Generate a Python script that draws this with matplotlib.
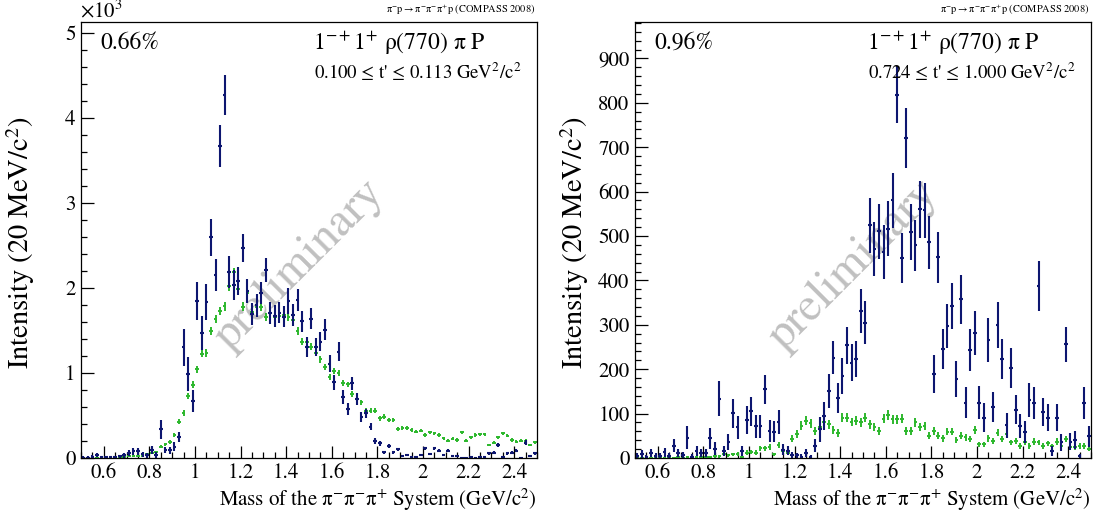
"""Recreate the COMPASS 2008 1-+1+ rho(770) pi P partial-wave intensity plots."""

from __future__ import annotations

import matplotlib

matplotlib.use("Agg")
import matplotlib.pyplot as plt
import numpy as np
from matplotlib.ticker import FixedLocator, MultipleLocator

plt.rcParams["font.family"] = ["STIXGeneral", "DejaVu Serif"]
plt.rcParams["mathtext.fontset"] = "stix"

# 100 bins of 20 MeV between 0.5 and 2.5 GeV/c^2
BIN_CENTERS = np.arange(0.51, 2.5, 0.02)

# left panel: 0.100 <= t' <= 0.113
LOW_T_TOTAL = [
    5, 5, 15, 35, 10, 10, 8, 10, 20, 30, 60, 80, 80, 45, 30, 95, 35, 337, 94, 90,
    133, 250, 1302, 988, 670, 1847, 1467, 1839, 2596, 2153, 3671, 4271, 2192, 2035, 2082, 2467, 1969, 1690, 1795, 1937,
    2212, 1705, 1672, 1710, 1663, 1845, 1682, 1855, 1610, 1306, 1640, 1306, 1369, 1510, 1110, 892, 1251, 718, 580, 878,
    690, 486, 525, 369, 204, 172, 67, 141, 67, 102, 24, 35, 8, 8, 35, 114, 47, 114, 86, 35,
    86, 24, 24, 4, 4, 16, 4, 16, 8, 55, 63, 153, 8, 55, 63, 86, 4, 180, 24, 55,
]
LOW_T_TOTAL_ERR = [
    15, 15, 20, 25, 15, 15, 15, 15, 20, 25, 35, 40, 40, 30, 25, 45, 30, 115, 40, 40,
    50, 60, 215, 200, 125, 225, 200, 210, 215, 190, 250, 240, 190, 180, 160, 165, 140, 130, 140, 130,
    140, 130, 130, 120, 120, 150, 130, 130, 125, 115, 125, 110, 110, 120, 100, 90, 115, 80, 70, 80,
    70, 60, 55, 45, 35, 30, 20, 25, 20, 20, 12, 12, 8, 8, 12, 20, 12, 20, 18, 12,
    18, 10, 10, 5, 5, 8, 5, 8, 6, 15, 15, 25, 6, 15, 15, 18, 5, 30, 10, 15,
]
LOW_T_MODEL = [
    0, 0, 2, 3, 5, 5, 8, 10, 12, 15, 18, 20, 22, 25, 45, 55, 67, 133, 160, 184,
    270, 427, 525, 729, 863, 1043, 1228, 1239, 1496, 1633, 1728, 1784, 2020, 2186, 1990, 1780, 1937, 1722, 1780, 1780,
    1660, 1702, 1660, 1670, 1680, 1660, 1620, 1494, 1369, 1369, 1310, 1240, 1161, 1067, 957, 1027, 996, 886, 867, 753,
    690, 655, 557, 557, 557, 467, 486, 447, 447, 345, 357, 349, 329, 310, 322, 271, 302, 290, 271, 231,
    204, 224, 212, 302, 204, 243, 271, 278, 278, 153, 180, 243, 290, 263, 212, 192, 204, 204, 153, 184,
]
LOW_T_MODEL_ERR = [
    3, 3, 3, 3, 4, 4, 5, 5, 6, 6, 7, 7, 8, 8, 10, 12, 14, 20, 22, 24,
    28, 32, 34, 38, 40, 42, 45, 45, 48, 50, 50, 50, 55, 55, 52, 50, 50, 48, 48, 48,
    46, 46, 46, 46, 46, 46, 45, 43, 42, 42, 40, 40, 38, 37, 35, 36, 35, 33, 33, 31,
    30, 30, 28, 28, 28, 26, 26, 25, 25, 22, 22, 22, 22, 21, 21, 20, 21, 20, 20, 18,
    18, 18, 18, 20, 18, 19, 20, 20, 20, 16, 17, 19, 20, 19, 18, 17, 18, 18, 16, 17,
]

# right panel: 0.724 <= t' <= 1.000
HIGH_T_TOTAL = [
    5, 9, 2, 11, 5, 5, 13, 5, 28, 11, 6, 46, 3, 16, 11, 11, 44, 21, 134, 16,
    35, 101, 69, 16, 85, 105, 71, 71, 155, 61, 59, 81, 19, 16, 7, 6, 3, 11, 3, 28,
    65, 95, 151, 226, 136, 185, 254, 215, 223, 331, 305, 524, 471, 511, 464, 516, 580, 818, 451, 721,
    509, 479, 560, 558, 486, 189, 452, 246, 297, 342, 178, 357, 124, 243, 281, 125, 91, 266, 115, 299,
    222, 74, 203, 109, 72, 58, 130, 124, 387, 103, 91, 16, 91, 35, 256, 37, 40, 4, 124, 49,
]
HIGH_T_TOTAL_ERR = [
    6, 8, 5, 9, 6, 6, 10, 6, 15, 9, 7, 25, 5, 12, 9, 9, 24, 15, 39, 12,
    18, 33, 26, 12, 32, 32, 26, 26, 33, 24, 24, 28, 12, 10, 7, 6, 5, 9, 4, 15,
    28, 32, 38, 37, 34, 40, 42, 42, 40, 49, 48, 62, 60, 62, 60, 62, 62, 64, 56, 67,
    62, 58, 64, 62, 60, 43, 58, 45, 50, 52, 40, 55, 35, 48, 50, 38, 33, 50, 34, 52,
    45, 28, 45, 33, 28, 25, 38, 36, 56, 32, 30, 12, 30, 20, 39, 20, 20, 6, 36, 24,
]
HIGH_T_MODEL = [
    1, 0, 1, 0, 1, 0, 1, 0, 1, 2, 1, 2, 2, 3, 2, 3, 2, 4, 4, 8,
    6, 8, 9, 3, 12, 14, 12, 22, 22, 25, 8, 30, 15, 12, 43, 54, 73, 84, 78, 61,
    69, 81, 76, 63, 57, 91, 91, 81, 84, 80, 91, 76, 69, 61, 88, 97, 87, 87, 88, 61,
    61, 80, 69, 73, 50, 61, 50, 44, 59, 59, 41, 50, 47, 43, 63, 31, 31, 44, 39, 57,
    43, 54, 35, 39, 27, 37, 27, 37, 35, 27, 33, 26, 37, 26, 43, 24, 24, 27, 27, 20,
]
HIGH_T_MODEL_ERR = [
    1, 1, 1, 1, 1, 1, 1, 1, 1, 2, 1, 2, 2, 2, 2, 2, 2, 3, 3, 4,
    3, 4, 4, 3, 5, 5, 5, 6, 6, 6, 4, 7, 5, 5, 8, 9, 10, 10, 10, 9,
    9, 10, 10, 9, 9, 11, 11, 10, 10, 10, 11, 10, 9, 9, 10, 11, 10, 10, 10, 9,
    9, 10, 9, 9, 8, 9, 8, 8, 8, 8, 7, 8, 8, 7, 9, 6, 6, 7, 7, 8,
    7, 8, 6, 7, 6, 7, 6, 7, 6, 6, 6, 6, 7, 6, 7, 6, 6, 6, 6, 5,
]

PANELS = [
    {
        "total": LOW_T_TOTAL, "total_err": LOW_T_TOTAL_ERR,
        "model": LOW_T_MODEL, "model_err": LOW_T_MODEL_ERR,
        "fraction": "0.66%", "trange": "0.100 \u2264 t' \u2264 0.113 GeV$^{2}$/c$^{2}$",
        "ymax": 5130, "major": 1000, "minor": 200, "scaled": True,
    },
    {
        "total": HIGH_T_TOTAL, "total_err": HIGH_T_TOTAL_ERR,
        "model": HIGH_T_MODEL, "model_err": HIGH_T_MODEL_ERR,
        "fraction": "0.96%", "trange": "0.724 \u2264 t' \u2264 1.000 GeV$^{2}$/c$^{2}$",
        "ymax": 982, "major": 100, "minor": 20, "scaled": False,
    },
]

BLUE = "#0d1670"
GREEN = "#2db82d"


def draw_panel(axis, panel: dict) -> None:
    axis.errorbar(BIN_CENTERS, panel["model"], yerr=panel["model_err"], xerr=0.008,
                  fmt="none", ecolor=GREEN, elinewidth=1.4, capsize=0)
    axis.errorbar(BIN_CENTERS, panel["total"], yerr=panel["total_err"], xerr=0.008,
                  fmt="none", ecolor=BLUE, elinewidth=1.5, capsize=0)
    axis.set_xlim(0.5, 2.5)
    axis.set_ylim(0, panel["ymax"])

    xticks = [0.6, 0.8, 1.0, 1.2, 1.4, 1.6, 1.8, 2.0, 2.2, 2.4]
    axis.xaxis.set_major_locator(FixedLocator(xticks))
    axis.set_xticklabels([f"{t:g}" for t in xticks])
    axis.xaxis.set_minor_locator(MultipleLocator(0.05))
    axis.yaxis.set_major_locator(MultipleLocator(panel["major"]))
    axis.yaxis.set_minor_locator(MultipleLocator(panel["minor"]))
    if panel["scaled"]:
        yticks = np.arange(0, 5001, 1000)
        axis.set_yticks(yticks, labels=[str(int(t / 1000)) for t in yticks])
        axis.text(-0.002, 1.0, r"$\mathregular{\times10^{3}}$", transform=axis.transAxes,
                  ha="left", va="bottom", fontsize=15)
    axis.tick_params(which="both", direction="in", top=False, right=False, width=0.9, labelsize=15)
    axis.tick_params(which="major", length=9, pad=4)
    axis.tick_params(which="minor", length=4.5)
    for spine in axis.spines.values():
        spine.set_linewidth(0.9)

    axis.set_ylabel(r"Intensity (20 MeV/c$^{2}$)", fontsize=20.5)
    axis.yaxis.set_label_coords(-0.097, 0.495)
    axis.set_xlabel(r"Mass of the $\mathregular{\pi^{-}\pi^{-}\pi^{+}}$ System (GeV/c$^{2}$)",
                    fontsize=15, loc="right")
    axis.xaxis.set_label_coords(1.0, -0.065)

    axis.text(0.996, 1.012, r"$\mathregular{\pi^{-}p \rightarrow \pi^{-}\pi^{-}\pi^{+}p}$ (COMPASS 2008)",
              transform=axis.transAxes, ha="right", va="bottom", fontsize=7.5)
    axis.text(0.042, 0.952, panel["fraction"], transform=axis.transAxes,
              ha="left", va="center", fontsize=17)
    axis.text(0.508, 0.952, "$\\mathregular{1^{-+}1^{+}}$ \u03c1(770) \u03c0 P", transform=axis.transAxes,
              ha="left", va="center", fontsize=17)
    axis.text(0.51, 0.885, panel["trange"], transform=axis.transAxes,
              ha="left", va="center", fontsize=13.5)
    axis.text(0.48, 0.443, "preliminary", transform=axis.transAxes, rotation=45,
              ha="center", va="center", fontsize=34, color="#c0c0c0", zorder=0)


def main() -> None:
    figure = plt.figure(figsize=(10.99, 5.21), dpi=100)
    left = figure.add_axes([81 / 1099, 63 / 521, 456 / 1099, 436 / 521])
    right = figure.add_axes([635 / 1099, 63 / 521, 456 / 1099, 436 / 521])
    for axis, panel in zip((left, right), PANELS):
        draw_panel(axis, panel)
    figure.savefig("out.png", dpi=100)
    plt.close(figure)


if __name__ == "__main__":
    main()
